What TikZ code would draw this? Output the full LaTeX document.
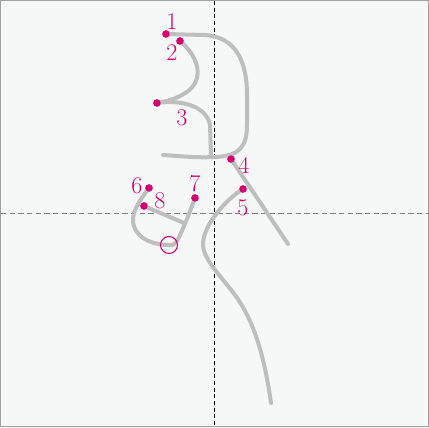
\documentclass[tikz,border=0pt]{standalone}
\usepackage{tikz}
\usetikzlibrary{positioning}
\definecolor{strokegray}{RGB}{190,190,190}
\definecolor{dotpink}{RGB}{214,0,110}
\definecolor{paper}{RGB}{246,248,247}
\definecolor{frame}{RGB}{160,160,160}

\begin{document}
\begin{tikzpicture}[x=0.75pt, y=-0.75pt,
  stroke/.style={draw=strokegray, line width=3pt, line cap=round,
                 line join=round},
  guide/.style={dashed, line width=0.75pt},
  dot/.style={circle, fill=dotpink, inner sep=0pt, minimum size=5.5pt},
  num/.style={text=dotpink, inner sep=0pt,
              font=\fontsize{18}{18}\selectfont}]
\useasboundingbox (0,0) rectangle (429,428);
\fill[paper] (0,0) rectangle (429,428);
\draw[frame, line width=1pt] (0.5,0.5) rectangle (428.5,426.5);
% guide lines
\draw[guide, black, dash pattern=on 3pt off 2pt] (214,1) -- (214,426);
\draw[guide, gray, dash pattern=on 4pt off 2.5pt] (1,213) -- (428,213);
% start points
\node[dot] (s1) at (166,34) {};
\node[dot] (s2) at (180,41) {};
\node[dot] (s3) at (157,103) {};
\node[dot] (s4) at (231,159) {};
\node[dot] (s5) at (243,189) {};
\node[dot] (s6) at (149,188) {};
\node[dot] (s7) at (195,198) {};
\node[dot] (s8) at (144,206) {};
\coordinate (hook) at (169,245);
% strokes
\begin{scope}[on background layer/.try]
\draw[stroke] (s1.center) -- (205,35)
  .. controls (235,37) and (247,60) .. (247,95) -- (247,125)
  .. controls (247,146) and (240,156) .. (215,157)
  .. controls (195,158) and (180,156) .. (163,155);
\draw[stroke] (s2.center) .. controls (193,52) and (200,66) .. (197,78)
  .. controls (194,92) and (175,100) .. (s3.center);
\draw[stroke] (s3.center) .. controls (185,99) and (207,108) .. (210,125)
  -- (211,155);
\draw[stroke] (s4.center) -- (288,244);
\draw[stroke] (s5.center) .. controls (225,200) and (204,225) .. (203,243)
  .. controls (202,258) and (220,275) .. (235,295)
  .. controls (255,322) and (265,360) .. (271,403);
\draw[stroke] (s6.center) .. controls (140,200) and (133,210) .. (133,220)
  .. controls (133,236) and (150,245) .. (hook);
\draw[stroke] (s7.center) .. controls (190,212) and (182,232) .. (178,239)
  .. controls (176,244) and (172,246) .. (hook);
\draw[stroke] (s8.center) -- (184,223);
\end{scope}
\node[dot] at (s1) {};
\node[dot] at (s2) {};
\node[dot] at (s3) {};
\node[dot] at (s4) {};
\node[dot] at (s5) {};
\node[dot] at (s6) {};
\node[dot] at (s7) {};
\node[dot] at (s8) {};
\draw[dotpink, line width=0.8pt] (hook) circle (8.5);
% numbers
\node[num] (n1) at (172,22) {1};
\node[num] (n2) at (172,53) {2};
\node[num] (n3) at (182,118) {3};
\node[num] (n4) at (244,165) {4};
\node[num] (n5) at (243,208) {5};
\node[num] (n6) at (137,186) {6};
\node[num] (n7) at (195,184) {7};
\node[num] (n8) at (160,201) {8};
\end{tikzpicture}
\end{document}
